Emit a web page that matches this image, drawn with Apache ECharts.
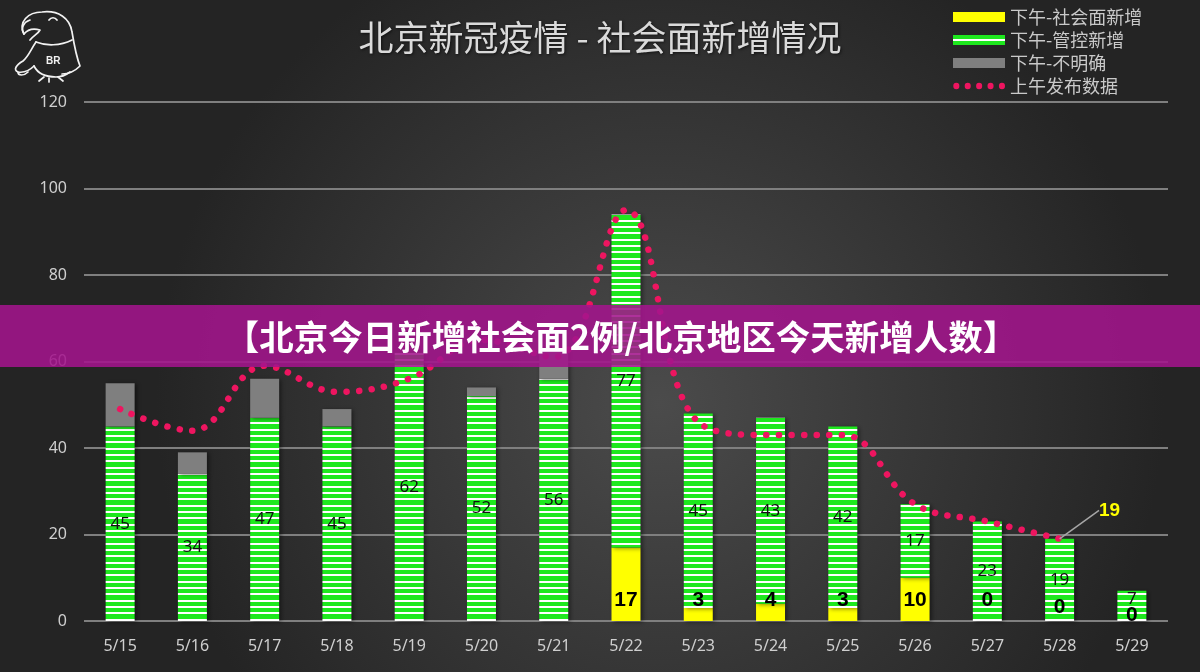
<!DOCTYPE html>
<html>
<head>
<meta charset="utf-8">
<script src="https://cdn.jsdelivr.net/npm/echarts@6/dist/echarts.min.js"></script>
<style>
  html, body { margin: 0; padding: 0; background: #2b2b2b; }
  #chart { width: 1200px; height: 672px; }
</style>
</head>
<body>
<div id="chart"></div>
<script>
// data
const days = ['5/15', '5/16', '5/17', '5/18', '5/19', '5/20', '5/21', '5/22', '5/23', '5/24', '5/25', '5/26', '5/27', '5/28', '5/29']
const socialNew = [null, null, null, null, null, null, null, 17, 3, 4, 3, 10, 0, 0, 0]
const controlledNew = [45, 34, 47, 45, 62, 52, 56, 77, 45, 43, 42, 17, 23, 19, 7]
const unclearNew = [10, 5, 9, 4, 0, 2, 7, 0, 0, 0, 0, 0, 0, 0, 0]
const morningReport = [49, 44, 59, 53, 56, 65, 61, 95, 46, 43, 43, 27, 23, 19, null]
const yTicks = [0, 20, 40, 60, 80, 100, 120]

const seriesNames = ['下午-社会面新增', '下午-管控新增', '下午-不明确', '上午发布数据']
const titleText = '北京新冠疫情 - 社会面新增情况'
const bannerText = '【北京今日新增社会面2例/北京地区今天新增人数】'

const chart = echarts.init(document.getElementById('chart'))

// green / white stripes like the excel pattern fill
const makeStripes = () => {
  const c = document.createElement('canvas')
  c.width = 6
  c.height = 19
  const ctx = c.getContext('2d')
  ctx.fillStyle = '#ffffff'
  ctx.fillRect(0, 0, 6, 19)
  ctx.fillStyle = '#1ee81e'
  ctx.fillRect(0, 0, 6, 4)
  ctx.fillRect(0, 6, 6, 5)
  ctx.fillRect(0, 13, 6, 4)
  return c
}

// five dots for the legend of the dotted line
const dotsIcon = (() => {
  let p = 'path://M0,0L0.01,0L0.01,0.01Z'
  for (let k = 0; k < 5; k++) {
    const cx = 3.5 + k * 12
    p += `M${cx - 3.2},5A3.2,3.2 0 1,0 ${cx + 3.2},5A3.2,3.2 0 1,0 ${cx - 3.2},5Z`
  }
  return p + 'M51.99,9.99L52,9.99L52,10Z'
})()

// parrot logo as a small svg
const logoSvg = '<svg xmlns="http://www.w3.org/2000/svg" width="84" height="86" viewBox="0 0 84 86">' +
  '<g fill="none" stroke="#f2f2f2" stroke-width="1.7" stroke-linecap="round" stroke-linejoin="round">' +
  '<path d="M22,34 C16,22 26,12 40,12 C56,10 68,18 70,32 C72,44 74,56 78,66 C72,72 66,74 60,74"/>' +
  '<path d="M22,34 C18,28 22,22 28,20 M22,34 C26,29 31,28 38,30 C36,34 31,36 28,40"/>' +
  '<path d="M34,42 C44,46 58,46 70,40"/>' +
  '<path d="M34,42 C29,49 27,56 21,61 C14,65 11,70 16,72 C22,73 28,70 32,66"/>' +
  '<path d="M16,72 C16,76 22,76 26,72"/>' +
  '<path d="M32,66 C36,74 44,77 54,77 C60,77 64,75 68,72"/>' +
  '<path d="M42,77 L37,81 M47,78 L47,82 M56,77 L61,81"/>' +
  '<path d="M47,20 C49,17 53,17 55,20"/>' +
  '</g>' +
  '<text x="44" y="64" fill="#f2f2f2" font-family="Liberation Sans" font-weight="bold" font-size="10">BR</text>' +
  '</svg>'

const barShadow = {
  shadowColor: 'rgba(0,0,0,0.45)',
  shadowBlur: 4,
  shadowOffsetX: 2,
  shadowOffsetY: 1
}

const yellowOffsets = { 13: [0, 7], 14: [0, 15] }
const greenOffsets = { 14: [0, -7] }

const option = {
  backgroundColor: {
    type: 'radial',
    x: 0.55, y: 0.6, r: 0.75,
    colorStops: [
      { offset: 0, color: '#4b4b4b' },
      { offset: 1, color: '#242424' }
    ]
  },
  textStyle: { fontFamily: 'Noto Sans, Noto Sans CJK SC' },
  title: {
    text: titleText,
    left: 'center',
    top: 15,
    textStyle: {
      fontSize: 35,
      fontWeight: 'normal',
      color: '#dadada',
      fontFamily: 'Noto Sans CJK SC',
      textShadowColor: 'rgba(0,0,0,0.6)',
      textShadowBlur: 3,
      textShadowOffsetX: 1,
      textShadowOffsetY: 1
    }
  },
  legend: {
    orient: 'vertical',
    left: 948,
    top: 3,
    itemWidth: 52,
    itemHeight: 10,
    itemGap: 5,
    symbolKeepAspect: false,
    textStyle: { color: '#c9c9c9', fontSize: 18, fontFamily: 'Noto Sans CJK SC' },
    data: [
      { name: seriesNames[0], icon: 'rect' },
      { name: seriesNames[1], icon: 'rect' },
      { name: seriesNames[2], icon: 'rect' },
      { name: seriesNames[3], icon: dotsIcon }
    ]
  },
  grid: { left: 84, right: 32, top: 102, bottom: 51 },
  xAxis: {
    type: 'category',
    data: days,
    axisLine: { show: false },
    axisTick: { show: false },
    axisLabel: { color: '#cfcfcf', fontSize: 16, margin: 17 }
  },
  yAxis: {
    type: 'value',
    min: yTicks[0],
    max: yTicks[yTicks.length - 1],
    interval: 20,
    axisLabel: { color: '#cfcfcf', fontSize: 16, margin: 17 },
    splitLine: { lineStyle: { color: '#7f7f7f', width: 2 } }
  },
  series: [
    {
      name: seriesNames[0],
      type: 'bar',
      stack: 'pm',
      barWidth: 29,
      itemStyle: Object.assign({ color: '#ffff00' }, barShadow),
      label: {
        show: true,
        position: 'insideBottom',
        distance: 10,
        color: '#000',
        fontSize: 21,
        fontWeight: 'bold',
        fontFamily: 'Liberation Sans'
      },
      data: socialNew.map((v, i) => yellowOffsets[i] ? { value: v, label: { offset: yellowOffsets[i] } } : v)
    },
    {
      name: seriesNames[1],
      type: 'bar',
      stack: 'pm',
      barWidth: 29,
      itemStyle: Object.assign({ color: { image: makeStripes(), repeat: 'repeat' } }, barShadow),
      label: {
        show: true,
        position: 'inside',
        color: '#111',
        fontSize: 17
      },
      data: controlledNew.map((v, i) => greenOffsets[i] ? { value: v, label: { offset: greenOffsets[i] } } : v)
    },
    {
      name: seriesNames[2],
      type: 'bar',
      stack: 'pm',
      barWidth: 29,
      itemStyle: Object.assign({ color: '#7f7f7f' }, barShadow),
      data: unclearNew
    },
    {
      name: seriesNames[3],
      type: 'line',
      z: 5,
      smooth: 0.4,
      showSymbol: true,
      symbol: 'circle',
      symbolSize: 0,
      color: '#ee1560',
      lineStyle: { color: '#ee1560', width: 6.5, type: [0.1, 12.5], cap: 'round' },
      label: {
        show: false,
        position: 'top',
        color: '#ffff00',
        fontSize: 19,
        fontWeight: 'bold',
        fontFamily: 'Liberation Sans'
      },
      labelLine: { show: true, length2: 12, lineStyle: { color: '#a6a6a6', width: 1.5 } },
      labelLayout: (p) => p.dataIndex === 13 ? { dx: 50, dy: -14 } : {},
      data: morningReport.map((v, i) => i === 13 ? { value: v, label: { show: true } } : v)
    }
  ],
  graphic: [
    {
      type: 'image',
      left: 2,
      top: 0,
      style: {
        image: 'data:image/svg+xml;charset=utf-8,' + encodeURIComponent(logoSvg),
        width: 84,
        height: 86
      }
    },
    // purple banner laid over the chart
    {
      type: 'rect',
      z: 100,
      shape: { x: 0, y: 305, width: 1200, height: 62 },
      style: { fill: 'rgba(163,20,140,0.88)' }
    },
    {
      type: 'text',
      z: 101,
      x: 621,
      y: 337,
      style: {
        text: bannerText,
        fill: '#ffffff',
        font: 'bold 34.5px "Noto Sans CJK SC"',
        textAlign: 'center',
        textVerticalAlign: 'middle'
      }
    }
  ]
}

chart.setOption(option)
</script>
</body>
</html>
